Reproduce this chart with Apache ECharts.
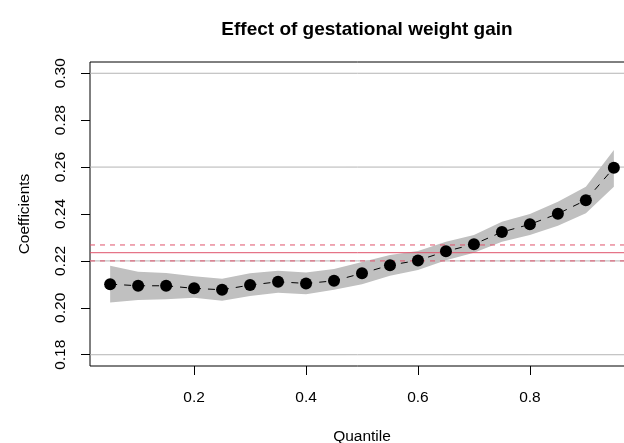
<!DOCTYPE html>
<html>
<head>
<meta charset="utf-8">
<script src="https://cdn.jsdelivr.net/npm/echarts@6/dist/echarts.min.js"></script>
<style>
  html, body { margin: 0; padding: 0; background: #fff; }
  #coefChart { width: 624px; height: 443px; }
</style>
</head>
<body>
<div id="coefChart"></div>
<script>
// quantile regression estimates
const quantiles = [0.05, 0.10, 0.15, 0.20, 0.25, 0.30, 0.35, 0.40, 0.45, 0.50,
  0.55, 0.60, 0.65, 0.70, 0.75, 0.80, 0.85, 0.90, 0.95];
const coefs = [0.2101, 0.2094, 0.2094, 0.2083, 0.2077, 0.2097, 0.2111, 0.2104, 0.2115, 0.2147,
  0.2182, 0.2202, 0.2241, 0.2271, 0.2323, 0.2356, 0.2401, 0.2459, 0.2597];
const lowerCI = [0.2023, 0.2033, 0.2037, 0.2043, 0.2030, 0.2050, 0.2064, 0.2058, 0.2077, 0.2100,
  0.2137, 0.2161, 0.2203, 0.2235, 0.2282, 0.2310, 0.2350, 0.2403, 0.2516];
const upperCI = [0.2179, 0.2154, 0.2149, 0.2135, 0.2124, 0.2147, 0.2158, 0.2151, 0.2165, 0.2195,
  0.2225, 0.2242, 0.2282, 0.2310, 0.2367, 0.2400, 0.2452, 0.2516, 0.2673];
// OLS estimate and its confidence bounds
const olsCoef = 0.2235;
const olsBounds = [0.2200, 0.2268];
// reference lines, axis range and ticks
const refLines = [0.18, 0.22, 0.26, 0.30];
const xRange = [0.014, 0.986];
const xTicks = [0.2, 0.4, 0.6, 0.8];
const yTicks = [0.18, 0.20, 0.22, 0.24, 0.26, 0.28, 0.30];

const font = 'Liberation Sans, Arial, Helvetica, sans-serif';
const red = '#df536b';
const chart = echarts.init(document.getElementById('coefChart'));

const points = quantiles.map(function(q, i) { return [q, coefs[i]]; });
const band = quantiles.map(function(q, i) { return [q, lowerCI[i], upperCI[i]]; });

// a horizontal line across the whole plot box
function hline(name, v, color, dash, z) {
  return {
    name: name,
    type: 'line',
    data: [[xRange[0], v], [xRange[1], v]],
    symbol: 'none',
    silent: true,
    lineStyle: { color: color, width: 1, type: dash },
    z: z
  };
}

const series = [];
refLines.forEach(function(v) { series.push(hline('ref', v, '#b4b4b4', 'solid', 1)); });
series.push({
  name: 'confidence band',
  type: 'custom',
  data: band,
  silent: true,
  z: 2,
  renderItem: function(params, api) {
    if (params.dataIndex !== 0) return null;
    const top = band.map(function(d) { return api.coord([d[0], d[2]]); });
    const bottom = band.slice().reverse().map(function(d) { return api.coord([d[0], d[1]]); });
    return {
      type: 'polygon',
      shape: { points: top.concat(bottom) },
      style: { fill: '#c0c0c0' }
    };
  },
  encode: { x: 0, y: [1, 2] }
});
series.push(hline('OLS', olsCoef, red, 'solid', 3));
olsBounds.forEach(function(v) { series.push(hline('OLS CI', v, red, [5, 5], 3)); });
series.push({
  name: 'Quantile coefficients',
  type: 'line',
  data: points,
  symbol: 'circle',
  symbolSize: 12,
  itemStyle: { color: '#000' },
  lineStyle: { color: '#000', width: 1, type: [7, 7] },
  z: 5
});

chart.setOption({
  backgroundColor: '#fff',
  animation: false,
  title: {
    text: 'Effect of gestational weight gain',
    left: 362,
    top: 15,
    textAlign: 'center',
    textStyle: { fontFamily: font, fontSize: 19, fontWeight: 'bold', color: '#000' }
  },
  // the plot box runs past the right edge of the picture, as in the original
  grid: {
    left: 90,
    top: 62,
    width: 544,
    height: 304,
    outerBoundsMode: 'none',
    containLabel: false,
    show: true,
    borderColor: '#000',
    borderWidth: 1
  },
  xAxis: {
    type: 'value',
    min: xRange[0],
    max: xRange[1],
    name: 'Quantile',
    nameLocation: 'middle',
    nameGap: 63,
    nameTextStyle: { fontFamily: font, fontSize: 15.5, color: '#000' },
    axisLine: { show: false },
    splitLine: { show: false },
    axisTick: {
      show: true,
      customValues: xTicks,
      length: 9,
      lineStyle: { color: '#000' }
    },
    axisLabel: {
      customValues: xTicks,
      margin: 24,
      fontFamily: font,
      fontSize: 15.5,
      color: '#000',
      formatter: function(v) { return v.toFixed(1); }
    }
  },
  yAxis: {
    type: 'value',
    min: 0.1752,
    max: 0.3048,
    name: 'Coefficients',
    nameLocation: 'middle',
    nameGap: 57,
    nameTextStyle: { fontFamily: font, fontSize: 15.5, color: '#000' },
    axisLine: { show: false },
    splitLine: { show: false },
    axisTick: {
      show: true,
      customValues: yTicks,
      length: 9,
      lineStyle: { color: '#000' }
    },
    axisLabel: {
      customValues: yTicks,
      rotate: 90,
      margin: 21,
      fontFamily: font,
      fontSize: 15.5,
      color: '#000',
      formatter: function(v) { return v.toFixed(2); }
    }
  },
  series: series
});
</script>
</body>
</html>
